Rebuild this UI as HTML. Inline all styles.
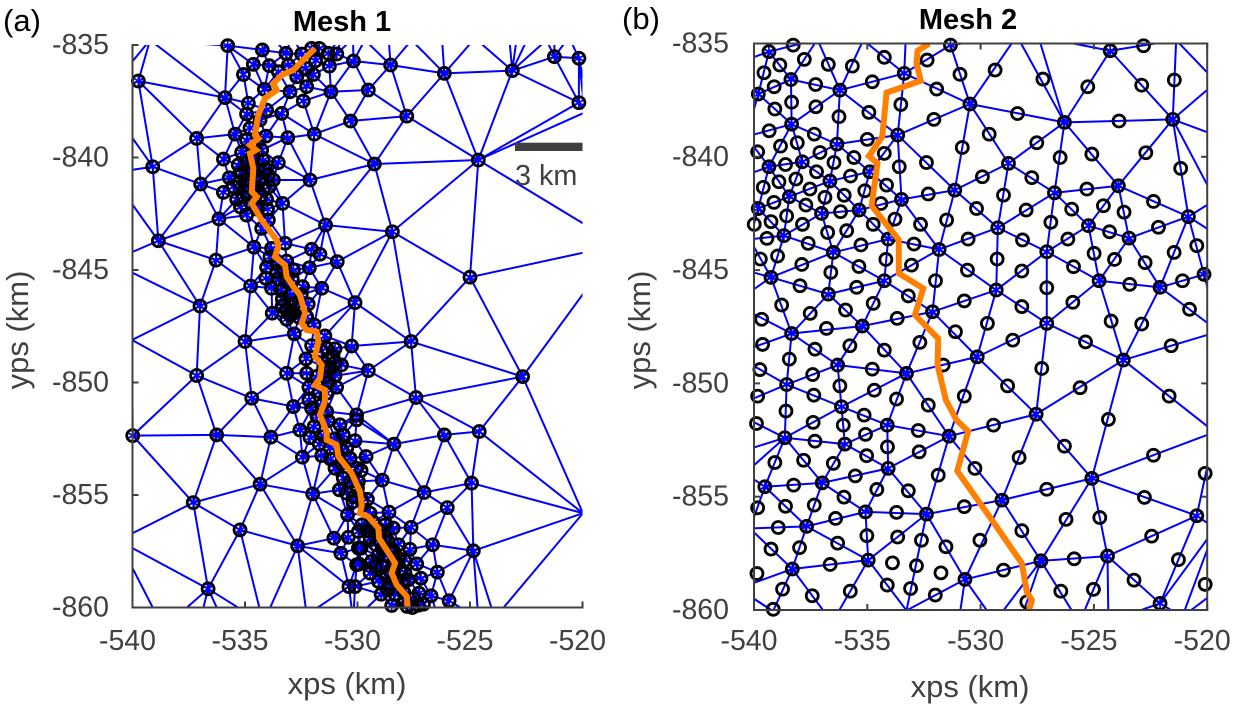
<!DOCTYPE html>
<html lang="en">
<head>
<meta charset="utf-8">
<title>Mesh 1 and Mesh 2</title>
<style>
html,body{margin:0;padding:0;background:#fff;}
#figure{display:block;width:1234px;height:705px;font-family:"Liberation Sans",sans-serif;}
</style>
</head>
<body>
<svg id="figure" xmlns="http://www.w3.org/2000/svg" width="1234" height="705" viewBox="0 0 1234 705">
  <defs>
    <clipPath id="clip-a"><rect x="132.5" y="45" width="450" height="562.5"/></clipPath>
    <clipPath id="clip-b"><rect x="754" y="43.5" width="453.2" height="566.5"/></clipPath>
  </defs>
  <rect x="0" y="0" width="1234" height="705" fill="#fff"/>
  <g id="panel-a"></g>
  <g id="panel-b"></g>
  <text x="3" y="31" font-size="31" fill="#000">(a)</text>
  <text x="622" y="29" font-size="31" fill="#000">(b)</text>
  <text x="342" y="31" font-size="29" font-weight="bold" text-anchor="middle" fill="#000">Mesh 1</text>
  <text x="968" y="29" font-size="29" font-weight="bold" text-anchor="middle" fill="#000">Mesh 2</text>
  <text x="347" y="694" font-size="31" text-anchor="middle" fill="#404040">xps (km)</text>
  <text x="970" y="697" font-size="31" text-anchor="middle" fill="#404040">xps (km)</text>
  <text transform="translate(28,330) rotate(-90)" font-size="31" text-anchor="middle" fill="#404040">yps (km)</text>
  <text transform="translate(650,330) rotate(-90)" font-size="31" text-anchor="middle" fill="#404040">yps (km)</text>
  <rect x="515" y="142.7" width="67.5" height="8.3" fill="#404040"/>
  <text x="515" y="185" font-size="28.8" fill="#404040">3 km</text>
</svg>
<script>
const xTickValues = [-540, -535, -530, -525, -520];
const yTickValues = [-835, -840, -845, -850, -855, -860];

const mesh1Nodes = [
[-535.77,-835.03],[-534.23,-835.22],[-533.18,-835.37],[-532.48,-835.40],[-532.04,-835.15],[-531.70,-835.15],[-531.30,-835.37],[-530.92,-835.40],[-530.18,-835.71],[-534.63,-835.86],
[-533.92,-835.92],[-535.07,-836.31],[-533.07,-835.89],[-533.52,-836.19],[-532.70,-836.41],[-531.96,-836.31],[-531.25,-835.94],[-531.86,-835.70],[-532.29,-836.04],[-539.74,-836.60],
[-534.14,-836.97],[-533.00,-837.08],[-532.26,-836.85],[-531.18,-837.08],[-535.89,-837.34],[-532.41,-837.49],[-534.85,-837.59],[-534.04,-837.89],[-533.37,-838.04],[-534.93,-838.07],
[-534.33,-838.33],[-530.31,-838.38],[-537.15,-839.15],[-535.44,-838.96],[-534.78,-838.70],[-534.07,-839.05],[-533.10,-839.12],[-531.92,-838.96],[-534.26,-839.67],[-535.15,-839.77],
[-534.93,-839.22],[-535.96,-840.07],[-533.52,-840.23],[-539.10,-840.41],[-535.30,-840.33],[-534.19,-840.11],[-535.70,-840.90],[-532.11,-841.00],[-536.97,-841.18],[-533.96,-840.78],
[-533.92,-841.30],[-535.96,-841.55],[-535.37,-841.86],[-533.33,-842.04],[-534.04,-841.86],[-535.00,-841.00],[-534.85,-841.52],[-534.33,-841.00],[-536.16,-842.73],[-534.93,-842.56],
[-533.96,-842.78],[-531.42,-843.00],[-534.26,-843.15],[-534.41,-840.56],[-535.52,-841.30],[-535.15,-840.70],[-534.78,-840.56],[-534.56,-841.30],[-534.19,-841.44],[-535.07,-841.74],
[-534.63,-839.96],[-533.74,-841.00],
[-534.90,-840.20],[-534.50,-840.80],[-534.90,-841.25],[-534.30,-841.70],[-534.65,-840.05],[-535.25,-841.10],[-534.10,-840.50],[-534.75,-842.00],[-534.45,-842.30],[-535.20,-842.20],[-534.00,-842.30],[-534.60,-839.60],
[-538.85,-843.70],[-536.29,-844.56],[-534.60,-843.99],[-533.22,-843.81],[-533.82,-844.04],[-532.04,-844.08],[-531.67,-844.30],[-530.90,-844.63],[-532.14,-844.90],[-533.89,-844.41],
[-533.15,-844.60],[-534.04,-844.88],[-532.85,-845.00],[-533.59,-845.07],[-534.07,-845.37],[-534.75,-845.71],[-533.82,-845.81],[-532.44,-845.74],[-531.59,-845.81],[-533.15,-845.52],
[-533.34,-846.29],[-532.78,-846.48],[-532.19,-846.51],[-530.11,-846.45],[-537.00,-846.60],[-533.79,-846.92],[-533.15,-847.19],[-533.15,-846.78],[-532.85,-846.92],[-532.26,-847.07],
[-531.93,-847.44],[-532.81,-847.84],[-531.45,-847.93],[-535.00,-848.18],[-530.26,-848.38],[-532.04,-848.36],[-531.37,-848.48],[-532.29,-848.95],[-531.08,-848.85],[-530.71,-849.22],
[-531.22,-849.37],[-532.26,-849.59],[-533.15,-849.59],[-537.15,-849.69],[-531.82,-849.74],[-531.45,-849.74],[-530.93,-850.21],[-532.16,-850.21],[-531.37,-850.48],[-534.70,-850.70],
[-532.16,-850.78],[-532.85,-851.07],[-532.04,-851.15],[-531.37,-851.29],[-530.04,-851.44],
[-533.40,-845.90],[-533.00,-846.10],[-533.00,-846.60],[-532.70,-846.70],[-532.50,-846.10],[-532.60,-847.10],[-533.35,-846.60],[-533.00,-847.00],[-533.50,-845.40],[-533.30,-845.00],[-532.90,-845.40],[-533.60,-844.70],
[-531.60,-848.60],[-531.30,-849.00],[-531.00,-849.10],[-531.50,-849.30],[-531.00,-849.70],[-531.30,-850.00],[-531.70,-850.40],[-531.00,-848.50],[-531.60,-851.00],[-531.80,-851.50],[-531.30,-851.70],
[-539.99,-852.36],[-536.26,-852.33],[-533.85,-852.43],[-532.56,-852.11],[-532.11,-852.45],[-531.93,-851.96],[-530.78,-851.88],[-530.04,-851.66],[-532.45,-853.32],[-531.59,-853.25],
[-531.70,-852.74],[-530.63,-852.33],[-531.00,-853.81],[-530.48,-852.92],[-530.33,-853.37],[-530.04,-853.81],[-537.30,-855.34],[-534.33,-854.52],[-531.99,-854.95],[-530.81,-854.77],
[-530.48,-854.92],[-530.16,-855.07],[-530.44,-855.88],[-535.22,-856.55],[-532.66,-857.26],[-531.05,-856.92],[-530.41,-856.88],[-529.96,-856.62],[-529.96,-857.36],[-530.74,-857.59],
[-530.04,-858.10],[-536.64,-859.17],[-530.38,-859.07],[-530.63,-854.25],[-531.22,-852.92],
[-531.50,-852.40],[-531.00,-852.50],[-530.70,-853.00],[-531.20,-853.40],[-530.70,-853.60],[-530.30,-854.40],[-530.00,-854.70],[-530.20,-855.30],[-529.80,-855.30],
[-527.62,-848.18],[-529.52,-849.47],[-522.66,-849.74],[-527.40,-850.67],[-526.14,-852.33],[-524.59,-852.18],[-528.38,-852.74],[-530.11,-852.59],[-529.62,-853.29],[-529.84,-853.91],
[-529.96,-854.40],[-528.90,-854.34],[-524.93,-854.47],[-527.04,-854.89],[-529.56,-855.19],[-526.01,-855.56],[-528.60,-855.76],[-529.44,-855.81],[-527.62,-856.44],[-528.41,-856.47],
[-529.81,-856.33],[-528.78,-856.33],[-526.66,-857.21],[-524.85,-857.48],[-527.67,-857.41],[-529.84,-857.36],[-528.18,-857.21],[-529.44,-856.92],[-529.00,-857.07],[-529.37,-857.95],
[-528.78,-857.66],[-529.93,-858.07],[-527.37,-858.06],[-529.44,-858.47],[-526.45,-858.43],[-527.18,-858.70],[-527.89,-858.47],[-529.07,-858.84],[-528.55,-858.92],[-527.74,-858.77],
[-530.11,-859.07],[-528.95,-859.41],[-528.33,-859.41],[-527.27,-859.36],[-526.73,-859.48],[-525.93,-859.70],[-528.48,-859.91],[-527.56,-860.00],[-527.07,-859.85],[-527.89,-859.73],
[-528.18,-857.81],[-528.63,-857.07],[-529.22,-856.62],[-528.55,-858.40],
[-529.30,-856.20],[-529.00,-856.60],[-528.80,-857.00],[-528.60,-857.40],[-528.40,-857.50],[-528.90,-857.40],[-529.10,-857.70],[-528.40,-858.10],[-528.90,-858.20],[-528.70,-858.60],[-528.30,-858.70],[-528.10,-858.30],
[-528.00,-858.90],[-529.20,-858.20],[-528.65,-859.20],[-527.95,-859.30],[-527.50,-859.60],[-527.30,-859.90],[-527.80,-859.95],[-529.60,-856.60],[-529.20,-857.20],[-528.30,-857.90],[-527.90,-857.90],
[-528.53,-835.89],[-526.14,-836.26],[-523.12,-836.14],[-521.25,-835.52],[-520.16,-835.59],[-520.16,-837.56],[-529.52,-837.00],[-527.81,-838.16],[-524.63,-840.11],[-529.25,-840.29],
[-528.45,-843.30],[-525.00,-845.32]
];
const mesh1OffPlotNodes = [
[-539.22,-834.78],[-529.67,-834.78],[-528.63,-834.50],[-527.60,-834.78],[-526.26,-834.50],[-524.78,-834.70],[-523.30,-834.20],[-522.86,-834.20],[-522.26,-834.34],[-521.60,-834.78],
[-521.25,-834.65],[-520.60,-834.65],[-533.80,-834.60],[-532.90,-834.60],[-530.70,-834.60],[-530.20,-834.70],
[-541.30,-837.30],[-541.00,-840.70],[-541.00,-844.63],[-540.02,-848.11],[-540.63,-857.02],
[-538.63,-860.92],[-537.00,-860.60],[-536.04,-860.47],[-534.19,-860.70],[-533.00,-860.92],[-532.26,-860.33],[-530.19,-860.60],[-526.40,-860.47],[-524.63,-860.47],[-523.90,-860.47],
[-518.39,-843.89],[-519.98,-855.81],[-519.90,-838.00]
];
const mesh1Fault = [
[-531.89,-835.15],[-532.48,-835.74],[-532.85,-836.11],[-533.37,-836.34],[-533.74,-836.71],[-533.59,-837.00],[-534.11,-837.37],[-534.41,-838.11],[-534.56,-839.00],[-534.41,-839.15],
[-534.78,-839.45],[-534.51,-839.67],[-534.78,-839.82],[-534.63,-840.48],[-534.70,-841.52],[-534.48,-841.74],[-534.70,-842.04],[-534.26,-842.78],[-533.59,-843.67],[-533.52,-843.96],
[-533.67,-844.41],[-533.22,-844.78],[-533.15,-845.30],[-532.85,-845.74],[-532.56,-846.11],[-532.33,-846.92],[-532.48,-847.37],[-532.26,-847.67],[-531.82,-847.74],[-531.74,-848.18],
[-531.89,-848.85],[-531.59,-849.22],[-531.67,-849.81],[-531.89,-850.11],[-531.45,-850.33],[-531.45,-850.85],[-531.67,-851.44],[-531.37,-852.18],[-531.37,-852.55],[-530.93,-852.77],
[-530.85,-853.29],[-530.26,-854.03],[-529.89,-854.85],[-529.81,-855.44],[-529.89,-855.81],[-529.52,-855.96],[-529.07,-856.47],[-529.04,-856.92],[-528.33,-858.03],[-528.48,-858.47],
[-528.26,-858.99],[-527.81,-859.51],[-527.77,-860.00]
];

const mesh2Vertices = [
[-539.34,-835.36],[-538.37,-836.59],[-539.81,-837.23],[-536.21,-837.06],[-533.37,-836.32],[-531.33,-835.07],[-530.47,-837.67],[-538.34,-838.56],[-536.34,-839.44],[-533.66,-839.04],
[-537.87,-840.22],[-539.34,-840.44],[-534.89,-840.66],[-536.65,-841.07],[-531.14,-841.47],[-538.44,-841.76],[-539.81,-842.28],[-537.02,-842.50],[-535.36,-842.35],[-533.49,-841.88],
[-538.68,-843.48],[-534.08,-843.63],[-536.50,-844.22],[-531.83,-844.09],[-539.25,-845.32],[-534.25,-845.47],[-536.72,-846.06],[-532.12,-846.84],[-535.22,-847.47],[-538.34,-847.80],
[-536.31,-849.19],[-538.56,-850.05],[-533.27,-849.56],[-530.15,-848.83],[-536.14,-851.03],[-534.12,-851.84],[-538.64,-852.40],[-535.99,-852.68],[-531.39,-852.33],[-534.08,-853.75],
[-536.99,-854.39],[-539.52,-854.56],[-535.08,-855.67],[-532.39,-855.77],[-537.68,-856.31],[-534.96,-857.80],[-538.31,-858.19],[-530.69,-858.65],
[-524.28,-835.32],[-526.30,-838.48],[-521.52,-838.35],[-528.77,-840.29],[-526.74,-841.59],[-523.92,-841.28],[-529.24,-843.13],[-525.24,-843.04],[-523.45,-843.59],[-520.83,-842.64],
[-527.08,-844.19],[-524.77,-845.47],[-522.08,-845.76],[-520.14,-845.19],[-529.31,-845.88],[-527.08,-847.35],
[-523.70,-848.97],[-527.55,-851.36],[-525.09,-854.19],[-529.06,-855.15],[-520.46,-855.84],[-527.34,-857.83],[-524.40,-857.62],[-522.08,-859.71]
];
const mesh2OffPlotVertices = [
[-537.20,-834.82],[-535.18,-834.85],[-533.27,-833.97],[-528.40,-834.66],[-527.45,-834.70],[-521.37,-834.85],[-519.60,-836.70],[-519.06,-839.26],[-519.65,-841.90],[-519.50,-843.50],
[-519.49,-847.71],[-519.67,-852.15],[-519.65,-856.40],[-521.10,-860.30],[-518.10,-858.03],[-524.36,-860.50],[-525.64,-860.56],[-528.58,-861.45],[-530.99,-860.67],[-529.37,-860.52],
[-536.55,-860.55],[-539.16,-860.05],[-533.27,-860.02],[-540.18,-856.40],[-540.69,-859.05],[-541.43,-858.60],[-540.40,-853.97],[-541.14,-851.14],[-540.84,-853.09],[-540.91,-848.72],
[-540.19,-843.64],[-540.91,-846.47],[-540.40,-845.00],[-540.55,-840.88],[-540.34,-839.11],[-540.77,-835.88]
];
const mesh2EdgeNodes = [
[-538.27,-835.07],[-538.86,-835.95],[-539.56,-836.29],[-539.11,-836.91],[-537.78,-835.70],[-536.72,-835.92],[-535.66,-836.00],[-534.25,-835.61],[-532.36,-835.73],[-537.28,-836.81],
[-534.78,-836.69],[-531.94,-837.01],[-530.91,-836.36],[-538.34,-837.59],[-539.08,-837.89],[-537.27,-837.79],[-534.93,-838.04],[-533.52,-837.69],[-536.25,-838.23],[-532.06,-838.35],
[-539.33,-838.85],[-537.34,-839.00],[-538.83,-839.53],[-538.09,-839.38],[-539.84,-839.78],[-535.00,-839.23],[-537.09,-839.81],[-534.25,-839.85],[-530.81,-839.59],[-535.59,-840.03],
[-538.61,-840.34],[-536.47,-840.25],[-532.39,-840.25],[-533.59,-840.44],[-537.24,-840.66],[-535.74,-840.85],[-538.90,-841.10],[-538.15,-840.98],[-539.59,-841.35],[-537.53,-841.42],
[-534.15,-841.25],[-535.11,-841.50],[-536.87,-841.79],[-536.02,-841.70],[-532.31,-841.64],[-539.12,-842.01],[-537.71,-842.13],[-534.40,-842.06],[-536.18,-842.42],[-530.18,-842.28],
[-538.56,-842.61],[-539.25,-842.86],[-539.99,-842.98],[-537.86,-842.98],[-534.74,-842.98],[-533.78,-842.75],[-532.65,-842.98],[-531.50,-842.79],[-536.75,-843.34],[-535.91,-843.26],
[-539.43,-843.60],[-537.61,-843.82],[-535.28,-843.89],[-532.94,-843.85],[-530.55,-843.63],[-539.72,-844.51],[-538.96,-844.38],[-534.18,-844.53],[-537.89,-844.75],[-535.37,-844.84],
[-533.05,-844.78],[-530.58,-845.00],[-536.61,-845.10],[-537.97,-845.69],[-535.47,-845.76],[-531.99,-845.47],[-538.78,-846.54],[-533.19,-846.14],[-530.72,-846.36],[-537.52,-846.91],
[-534.74,-846.47],[-535.96,-846.76],[-533.68,-847.13],[-539.66,-847.17],[-536.80,-847.57],[-531.11,-847.72],
[-539.62,-848.28],[-537.31,-848.49],[-535.77,-848.34],[-534.25,-848.53],[-532.68,-848.19],[-538.44,-848.93],[-531.65,-849.19],[-539.74,-849.39],[-534.78,-849.37],[-537.41,-849.61],
[-536.21,-850.11],[-534.69,-850.30],[-539.84,-850.56],[-537.36,-850.52],[-530.72,-850.56],[-533.71,-850.69],[-532.31,-850.96],[-538.59,-851.22],[-535.14,-851.40],[-537.39,-851.72],
[-539.89,-851.77],[-536.06,-851.84],[-532.75,-852.08],[-535.08,-852.25],[-537.31,-852.55],[-534.11,-852.80],[-535.03,-853.19],[-532.71,-853.02],[-539.08,-853.49],[-537.81,-853.39],
[-536.50,-853.53],[-530.25,-853.75],[-535.53,-854.08],[-531.87,-854.05],[-538.25,-854.49],[-534.58,-854.68],[-533.19,-854.74],[-536.03,-855.02],[-539.84,-855.49],[-538.61,-855.42],
[-537.34,-855.37],[-533.71,-855.69],[-530.72,-855.44],[-536.40,-855.96],[-538.93,-856.36],[-535.02,-856.72],[-533.66,-856.78],[-536.31,-857.05],[-532.61,-856.92],[-531.53,-857.21],
[-539.25,-857.31],[-537.99,-857.25],[-530.03,-856.92],[-536.64,-857.99],[-533.89,-857.92],[-532.83,-858.05],[-531.75,-858.36],[-539.87,-858.39],[-534.12,-858.90],[-533.09,-859.05],
[-532.00,-859.34],[-538.74,-859.08],[-535.75,-859.17],[-537.43,-859.37],[-539.15,-859.97],
[-522.81,-835.10],[-529.36,-836.17],[-527.25,-836.57],[-525.27,-836.91],[-522.89,-836.84],[-521.45,-836.61],[-528.37,-838.09],[-523.89,-838.42],[-529.62,-839.00],[-527.52,-839.38],
[-526.49,-840.03],[-525.09,-839.88],[-522.71,-839.82],[-521.17,-840.51],[-529.92,-840.88],[-527.74,-840.92],[-525.31,-841.42],[-528.99,-841.69],[-527.99,-842.35],[-522.37,-841.97],
[-525.98,-842.31],[-524.58,-842.16],[-523.67,-842.44],[-526.90,-842.89],[-524.31,-843.31],[-528.15,-843.67],[-522.15,-843.11],[-526.15,-843.63],[-520.46,-843.92],[-521.46,-844.22],
[-529.27,-844.51],[-524.99,-844.26],[-524.09,-844.53],[-528.18,-845.04],[-525.90,-844.85],[-522.74,-844.67],[-521.09,-845.47],[-523.42,-845.63],[-527.08,-845.78],[-520.78,-846.73],
[-528.18,-846.61],[-525.93,-846.42],[-529.70,-847.35],[-524.24,-847.25],[-522.89,-847.38],
[-528.58,-848.09],[-525.37,-848.17],[-521.59,-848.34],[-527.30,-849.34],[-528.81,-850.11],[-525.61,-850.19],[-521.68,-850.56],[-529.43,-851.84],[-524.36,-851.59],[-526.30,-852.77],
[-522.37,-853.17],[-528.30,-853.27],[-527.08,-854.67],[-522.77,-855.03],[-520.09,-853.97],[-526.23,-856.00],[-524.74,-855.92],[-528.18,-856.50],[-522.45,-856.74],[-521.27,-857.78],
[-528.99,-858.24],[-525.87,-857.74],[-523.23,-858.68],[-526.46,-859.17],[-525.02,-859.09],[-527.96,-859.64],[-520.09,-858.87]
];
const mesh2Fault = [
[-532.27,-835.00],[-532.78,-835.32],[-532.83,-835.88],[-532.64,-836.64],[-534.15,-837.17],[-534.34,-839.11],[-534.93,-839.97],[-534.55,-840.29],[-534.81,-842.16],[-533.61,-843.67],
[-533.61,-845.14],[-532.53,-845.81],[-532.90,-846.98],[-531.87,-848.02],[-531.90,-849.19],[-531.53,-850.74],[-531.06,-851.62],[-530.55,-852.11],[-531.03,-853.87],[-529.50,-856.03],
[-528.18,-857.94],[-527.96,-859.19],[-527.74,-859.56],[-527.89,-860.10]
];

const SVG_NS = 'http://www.w3.org/2000/svg';
function make(tag, attrs, parent) {
  const el = document.createElementNS(SVG_NS, tag);
  for (const k in attrs) el.setAttribute(k, attrs[k]);
  parent.appendChild(el);
  return el;
}

function triangulate(points) {
  const seen = new Set();
  const pts = [];
  points.forEach(function (p) {
    const key = p[0] + ',' + p[1];
    if (!seen.has(key)) { seen.add(key); pts.push(p); }
  });
  const n = pts.length;
  const all = pts.concat([[-2000, -2000], [2000, -2000], [-530, 4000]].map(function (p) { return [p[0] - 530, p[1] - 848]; }));
  function tri(a, b, c) {
    const ax = all[a][0], ay = all[a][1], bx = all[b][0], by = all[b][1], cx = all[c][0], cy = all[c][1];
    const d = 2 * (ax * (by - cy) + bx * (cy - ay) + cx * (ay - by));
    const a2 = ax * ax + ay * ay, b2 = bx * bx + by * by, c2 = cx * cx + cy * cy;
    const ux = (a2 * (by - cy) + b2 * (cy - ay) + c2 * (ay - by)) / d;
    const uy = (a2 * (cx - bx) + b2 * (ax - cx) + c2 * (bx - ax)) / d;
    return { a: a, b: b, c: c, x: ux, y: uy, r: (ax - ux) * (ax - ux) + (ay - uy) * (ay - uy) };
  }
  let tris = [tri(n, n + 1, n + 2)];
  for (let i = 0; i < n; i++) {
    const p = all[i];
    const keep = [];
    const open = new Map();
    tris.forEach(function (t) {
      const dx = p[0] - t.x, dy = p[1] - t.y;
      if (dx * dx + dy * dy < t.r) {
        [[t.a, t.b], [t.b, t.c], [t.c, t.a]].forEach(function (e) {
          const k = Math.min(e[0], e[1]) + '_' + Math.max(e[0], e[1]);
          if (open.has(k)) open.set(k, null); else open.set(k, e);
        });
      } else {
        keep.push(t);
      }
    });
    open.forEach(function (e) { if (e) keep.push(tri(e[0], e[1], i)); });
    tris = keep;
  }
  const edges = new Map();
  tris.forEach(function (t) {
    [[t.a, t.b], [t.b, t.c], [t.c, t.a]].forEach(function (e) {
      if (e[0] < n && e[1] < n) {
        edges.set(Math.min(e[0], e[1]) + '_' + Math.max(e[0], e[1]), [pts[e[0]], pts[e[1]]]);
      }
    });
  });
  return Array.from(edges.values());
}

function drawPanel(cfg) {
  const root = document.getElementById(cfg.rootId);
  const sx = function (v) { return cfg.left + (v - xTickValues[0]) * (cfg.right - cfg.left) / (xTickValues[xTickValues.length - 1] - xTickValues[0]); };
  const sy = function (v) { return cfg.top + (yTickValues[0] - v) * (cfg.bottom - cfg.top) / (yTickValues[0] - yTickValues[yTickValues.length - 1]); };
  const inside = function (p) {
    return p[0] >= xTickValues[0] - 0.02 && p[0] <= xTickValues[xTickValues.length - 1] + 0.02 &&
           p[1] <= yTickValues[0] + 0.02 && p[1] >= yTickValues[yTickValues.length - 1] - 0.02;
  };

  const plot = make('g', { 'clip-path': 'url(#' + cfg.clipId + ')' }, root);
  
  

  triangulate(cfg.vertices.concat(cfg.offPlot)).forEach(function (e) {
    const line = make('line', { x1: sx(e[0][0]).toFixed(2), y1: sy(e[0][1]).toFixed(2), x2: sx(e[1][0]).toFixed(2), y2: sy(e[1][1]).toFixed(2), stroke: '#0000ff', 'stroke-width': 2 }, plot);
    
    
  });

  const marks = make('g', {}, root);
  
  

  cfg.vertices.filter(inside).forEach(function (p) {
    const x = sx(p[0]), y = sy(p[1]), r = 4.6, d = r * 0.866, h = r * 0.5;
    const star = make('path', {
      d: 'M' + x + ' ' + (y - r) + 'V' + (y + r) +
         'M' + (x - d) + ' ' + (y - h) + 'L' + (x + d) + ' ' + (y + h) +
         'M' + (x - d) + ' ' + (y + h) + 'L' + (x + d) + ' ' + (y - h),
      stroke: '#0000ff', 'stroke-width': 1.7, fill: 'none'
    }, marks);
    
    
  });

  cfg.vertices.concat(cfg.edgeNodes).filter(inside).forEach(function (p) {
    const c = make('circle', { cx: sx(p[0]).toFixed(2), cy: sy(p[1]).toFixed(2), r: 6, fill: 'none', stroke: '#000', 'stroke-width': 2.8 }, marks);
    
    
  });

  const fault = make('polyline', {
    points: cfg.fault.map(function (p) { return sx(p[0]).toFixed(2) + ',' + sy(p[1]).toFixed(2); }).join(' '),
    fill: 'none', stroke: '#ff8000', 'stroke-width': 6, 'stroke-linejoin': 'miter', 'clip-path': 'url(#' + cfg.clipId + ')'
  }, root);
  
  

  const axes = make('g', { stroke: '#404040', 'stroke-width': 2, fill: 'none' }, root);
  
  
  const leftLine = make('line', { x1: cfg.left, y1: cfg.top - 1, x2: cfg.left, y2: cfg.bottom + 1 }, axes);
  
  
  const bottomLine = make('line', { x1: cfg.left - 1, y1: cfg.bottom, x2: cfg.right + 1, y2: cfg.bottom }, axes);
  
  
  if (cfg.box) {
    const topLine = make('line', { x1: cfg.left - 1, y1: cfg.top, x2: cfg.right + 1, y2: cfg.top }, axes);
    
    
    const rightLine = make('line', { x1: cfg.right, y1: cfg.top - 1, x2: cfg.right, y2: cfg.bottom + 1 }, axes);
    
    
  }

  const tickLen = 6;
  xTickValues.forEach(function (v) {
    const x = sx(v);
    const t = make('line', { x1: x, y1: cfg.bottom, x2: x, y2: cfg.bottom - tickLen }, axes);
    
    
    if (cfg.box) {
      const t2 = make('line', { x1: x, y1: cfg.top, x2: x, y2: cfg.top + tickLen }, axes);
      
      
    }
    const label = make('text', { x: x - 5, y: 650, 'font-size': 28.5, fill: '#404040', stroke: 'none', 'text-anchor': 'middle' }, axes);
    
    
    label.textContent = String(v);
  });
  yTickValues.forEach(function (v) {
    const y = sy(v);
    const t = make('line', { x1: cfg.left, y1: y, x2: cfg.left + tickLen, y2: y }, axes);
    
    
    if (cfg.box) {
      const t2 = make('line', { x1: cfg.right, y1: y, x2: cfg.right - tickLen, y2: y }, axes);
      
      
    }
    const label = make('text', { x: cfg.labelRight, y: y + 9, 'font-size': 28.5, fill: '#404040', stroke: 'none', 'text-anchor': 'end' }, axes);
    
    
    label.textContent = String(v);
  });
}

drawPanel({ rootId: 'panel-a', clipId: 'clip-a', left: 132.5, right: 582.5, top: 45, bottom: 607.5, labelRight: 109, box: false,
  vertices: mesh1Nodes, offPlot: mesh1OffPlotNodes, edgeNodes: [], fault: mesh1Fault });
drawPanel({ rootId: 'panel-b', clipId: 'clip-b', left: 754, right: 1207.2, top: 43.5, bottom: 610, labelRight: 729, box: true,
  vertices: mesh2Vertices, offPlot: mesh2OffPlotVertices, edgeNodes: mesh2EdgeNodes, fault: mesh2Fault });
</script>
</body>
</html>
